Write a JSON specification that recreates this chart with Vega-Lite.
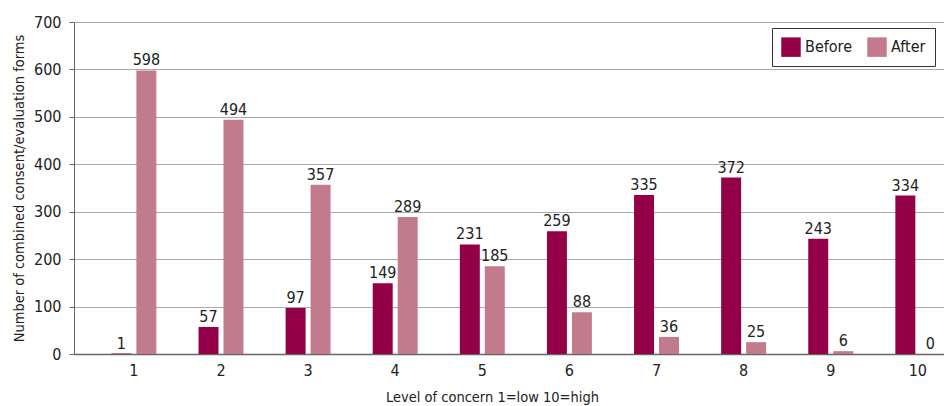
{
  "$schema": "https://vega.github.io/schema/vega-lite/v6.json",
  "width": 944,
  "height": 406,
  "autosize": {"type": "fit", "contains": "padding"},
  "padding": {"left": 11, "right": 0, "top": 14, "bottom": 2},
  "background": "white",
  "config": {
    "font": "DejaVu Sans Condensed, Roboto, sans-serif",
    "view": {"stroke": null},
    "axis": {"labelFont": "DejaVu Sans Condensed, Roboto, sans-serif", "titleFont": "DejaVu Sans Condensed, Roboto, sans-serif", "labelColor": "#222", "titleColor": "#222"}
  },
  "data": {
    "values": [
      {"level": "1", "period": "Before", "count": 1},
      {"level": "1", "period": "After", "count": 598},
      {"level": "2", "period": "Before", "count": 57},
      {"level": "2", "period": "After", "count": 494},
      {"level": "3", "period": "Before", "count": 97},
      {"level": "3", "period": "After", "count": 357},
      {"level": "4", "period": "Before", "count": 149},
      {"level": "4", "period": "After", "count": 289},
      {"level": "5", "period": "Before", "count": 231},
      {"level": "5", "period": "After", "count": 185},
      {"level": "6", "period": "Before", "count": 259},
      {"level": "6", "period": "After", "count": 88},
      {"level": "7", "period": "Before", "count": 335},
      {"level": "7", "period": "After", "count": 36},
      {"level": "8", "period": "Before", "count": 372},
      {"level": "8", "period": "After", "count": 25},
      {"level": "9", "period": "Before", "count": 243},
      {"level": "9", "period": "After", "count": 6},
      {"level": "10", "period": "Before", "count": 334},
      {"level": "10", "period": "After", "count": 0}
    ]
  },
  "encoding": {
    "x": {
      "field": "level",
      "type": "ordinal",
      "sort": null,
      "scale": {"paddingInner": 0.484, "paddingOuter": 0.236, "align": 0.91},
      "axis": {
        "title": "Level of concern 1=low 10=high",
        "titleFontSize": 14.5,
        "titleFontWeight": "normal",
        "titlePadding": 12,
        "titleX": 418,
        "labelAngle": 0,
        "labelFontSize": 16,
        "labelPadding": 8,
        "ticks": false,
        "domainColor": "#666",
        "domainWidth": 1.5
      }
    },
    "xOffset": {
      "field": "period",
      "type": "nominal",
      "sort": ["Before", "After"],
      "scale": {"paddingInner": 0.2}
    },
    "y": {
      "field": "count",
      "type": "quantitative",
      "scale": {"domain": [0, 700]},
      "axis": {
        "title": "Number of combined consent/evaluation forms",
        "titleFontSize": 14.5,
        "titleFontWeight": "normal",
        "titlePadding": 7,
        "values": [0, 100, 200, 300, 400, 500, 600, 700],
        "labelFontSize": 16,
        "labelPadding": 8,
        "tickSize": 5,
        "tickColor": "#666",
        "domainColor": "#666",
        "gridColor": "#aaa",
        "gridWidth": 1
      }
    }
  },
  "layer": [
    {
      "mark": {"type": "bar"},
      "encoding": {
        "color": {
          "field": "period",
          "type": "nominal",
          "sort": ["Before", "After"],
          "scale": {"domain": ["Before", "After"], "range": ["#930048", "#c27b8d"]},
          "legend": {
            "title": null,
            "orient": "none",
            "legendX": 698,
            "legendY": 6,
            "direction": "horizontal",
            "symbolType": "square",
            "symbolSize": 380,
            "symbolStrokeWidth": 0,
            "labelFontSize": 16,
            "labelFont": "DejaVu Sans Condensed, Roboto, sans-serif",
            "labelColor": "#222",
            "columnPadding": 14,
            "padding": 9,
            "strokeColor": "#333",
            "fillColor": "white"
          }
        }
      }
    },
    {
      "mark": {"type": "text", "baseline": "bottom", "dy": -2, "fontSize": 16, "color": "#222", "font": "DejaVu Sans Condensed, Roboto, sans-serif"},
      "encoding": {
        "text": {"field": "count", "type": "quantitative"}
      }
    }
  ]
}
